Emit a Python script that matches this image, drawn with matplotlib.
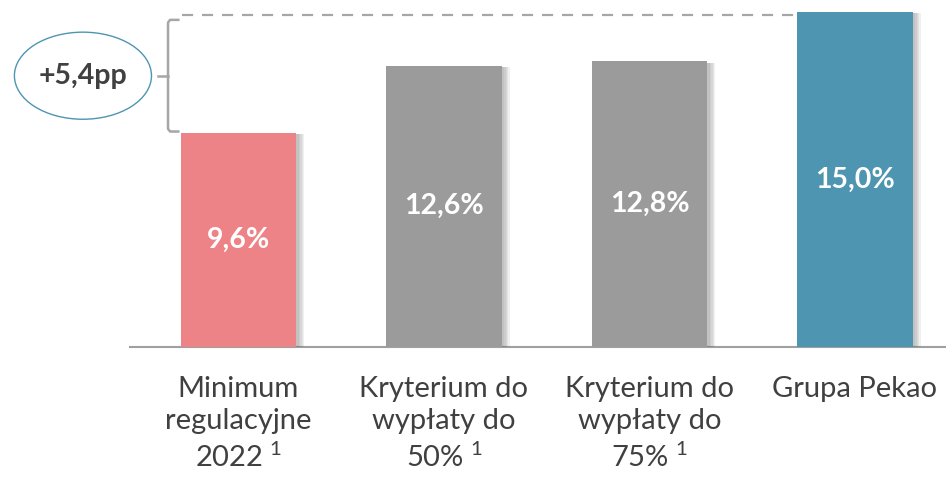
import matplotlib.pyplot as plt
import matplotlib.patheffects as pe
from matplotlib.patches import Ellipse

plt.rcParams['font.family'] = ['Lato', 'DejaVu Sans']
plt.rcParams['mathtext.fontset'] = 'custom'
plt.rcParams['mathtext.rm'] = 'Lato'

# data
categories = ['Minimum\nregulacyjne\n2022$^{\\ 1}$',
              'Kryterium do\nwypłaty do\n50%$^{\\ 1}$',
              'Kryterium do\nwypłaty do\n75%$^{\\ 1}$',
              'Grupa Pekao']
values = [9.6, 12.6, 12.8, 15.0]
value_labels = ['9,6%', '12,6%', '12,8%', '15,0%']
diff_label = '+5,4pp'
colors = ['#EE8387', '#9B9B9B', '#9B9B9B', '#4E95B2']

fig = plt.figure(figsize=(9.46, 4.78), dpi=100)
ax = fig.add_axes([130 / 946, 131 / 478, 816 / 946, 347 / 478])

x = range(len(values))
bars = ax.bar(x, values, width=0.56, color=colors, zorder=3)
# soft shadow on the right side of the bars
shadow = [pe.SimplePatchShadow(offset=(k, -1), shadow_rgbFace='#606060', alpha=0.09)
          for k in (6, 5, 4, 3, 2)]
for b in bars:
    b.set_path_effects(shadow + [pe.Normal()])

for xi, v, lab in zip(x, values, value_labels):
    ax.text(xi, v / 2, lab, ha='center', va='center', color='white',
            fontsize=20.5, fontweight='bold', zorder=4)

ax.set_xlim(-0.528, 3.443)
ax.set_ylim(0, 15.54)

# bracket between the minimum and Pekao
lo, hi = values[0] + 0.05, values[-1] - 0.35
bx = -0.343
gray = '#A6A6A6'
ax.plot([bx + 0.05, bx + 0.01, bx, bx, bx + 0.01, bx + 0.05],
        [hi, hi, hi - 0.12, lo + 0.12, lo, lo], color=gray, lw=1.8,
        clip_on=False, solid_joinstyle='round', zorder=2)
mid = (lo + hi) / 2
ax.plot([bx - 0.05, bx], [mid, mid], color=gray, lw=1.8, clip_on=False)
ax.plot([bx + 0.07, 2.83], [hi + 0.2, hi + 0.2], color=gray, lw=1.6,
        ls=(0, (5, 4)), clip_on=False, zorder=2)

ell = Ellipse((-0.757, mid), 0.667, 3.9, facecolor='white',
              edgecolor='#4E95B2', lw=1.0, clip_on=False)
ax.add_patch(ell)
ax.text(-0.757, mid, diff_label, ha='center', va='center', fontsize=20.5,
        fontweight='bold', color='#404040', clip_on=False)

ax.set_xticks(list(x))
ax.set_xticklabels(categories, fontsize=21, color='#404040', linespacing=1.3)
ax.tick_params(axis='x', length=0, pad=21)
ax.set_yticks([])
for s in ['top', 'right', 'left']:
    ax.spines[s].set_visible(False)
ax.spines['bottom'].set_color('#A0A0A0')
ax.spines['bottom'].set_linewidth(1.5)

fig.savefig('out.png', dpi=100)
